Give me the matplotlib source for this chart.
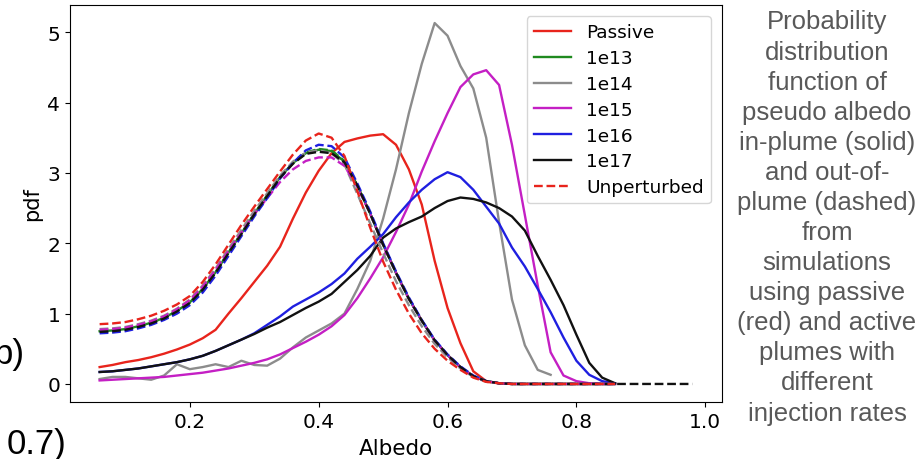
import matplotlib
matplotlib.use("Agg")
import matplotlib.pyplot as plt

# albedo grid (bin centres)
albedo = [0.06, 0.08, 0.10, 0.12, 0.14, 0.16, 0.18, 0.20, 0.22, 0.24,
          0.26, 0.28, 0.30, 0.32, 0.34, 0.36, 0.38, 0.40, 0.42, 0.44,
          0.46, 0.48, 0.50, 0.52, 0.54, 0.56, 0.58, 0.60, 0.62, 0.64,
          0.66, 0.68, 0.70, 0.72, 0.74, 0.76, 0.78, 0.80, 0.82, 0.84,
          0.86, 0.88, 0.90, 0.92, 0.94, 0.96, 0.98]

# in-plume (solid)
passive_in = [0.24, 0.27, 0.31, 0.34, 0.38, 0.43, 0.49, 0.56, 0.65, 0.77,
              1.00, 1.22, 1.45, 1.68, 1.95, 2.35, 2.72, 3.03, 3.28, 3.44,
              3.49, 3.53, 3.55, 3.40, 3.05, 2.55, 1.75, 1.08, 0.58, 0.18,
              0.04, 0.01, 0.0, 0.0, 0.0, 0.0, 0.0, 0.0, 0.0, 0.0, 0.0]
e13_in = [0.75, 0.76, 0.78, 0.82, 0.87, 0.94, 1.04, 1.16, 1.35, 1.59,
          1.87, 2.14, 2.42, 2.68, 2.94, 3.14, 3.28, 3.33, 3.31, 3.16,
          2.82, 2.42, 1.98, 1.58, 1.21, 0.90, 0.62, 0.41, 0.24, 0.11,
          0.04, 0.01, 0.0, 0.0, 0.0, 0.0, 0.0, 0.0, 0.0, 0.0, 0.0]
e14_in = [0.07, 0.10, 0.10, 0.08, 0.06, 0.12, 0.28, 0.21, 0.24, 0.28,
          0.24, 0.33, 0.27, 0.26, 0.36, 0.52, 0.66, 0.76, 0.86, 1.00,
          1.35, 1.75, 2.35, 3.05, 3.85, 4.55, 5.13, 4.95, 4.52, 4.20,
          3.50, 2.30, 1.20, 0.55, 0.20, 0.13]
e15_in = [0.05, 0.06, 0.07, 0.08, 0.09, 0.10, 0.12, 0.14, 0.16, 0.19,
          0.22, 0.26, 0.30, 0.35, 0.42, 0.51, 0.60, 0.70, 0.82, 0.98,
          1.22, 1.50, 1.80, 2.16, 2.55, 3.02, 3.45, 3.85, 4.22, 4.40,
          4.46, 4.25, 3.40, 2.40, 1.40, 0.45, 0.12, 0.04, 0.01, 0.0, 0.0]
e16_in = [0.17, 0.18, 0.20, 0.22, 0.25, 0.28, 0.31, 0.35, 0.40, 0.47,
          0.55, 0.63, 0.72, 0.84, 0.96, 1.10, 1.20, 1.30, 1.42, 1.57,
          1.78, 1.95, 2.13, 2.37, 2.58, 2.76, 2.91, 3.01, 2.94, 2.76,
          2.52, 2.28, 1.94, 1.67, 1.35, 1.02, 0.66, 0.33, 0.13, 0.04, 0.01]
e17_in = [0.17, 0.18, 0.20, 0.22, 0.25, 0.28, 0.31, 0.35, 0.40, 0.47,
          0.55, 0.63, 0.71, 0.80, 0.88, 0.98, 1.08, 1.17, 1.28, 1.45,
          1.62, 1.82, 2.08, 2.21, 2.30, 2.38, 2.50, 2.60, 2.65, 2.63,
          2.58, 2.50, 2.38, 2.18, 1.82, 1.48, 1.12, 0.70, 0.30, 0.09, 0.01]

# out-of-plume (dashed)
e13_out = [0.75, 0.76, 0.78, 0.82, 0.87, 0.94, 1.04, 1.16, 1.35, 1.59,
           1.87, 2.14, 2.42, 2.68, 2.94, 3.14, 3.29, 3.34, 3.32, 3.17,
           2.82, 2.42, 1.98, 1.58, 1.21, 0.90, 0.62, 0.41, 0.24, 0.11,
           0.04, 0.01, 0.0, 0.0, 0.0, 0.0, 0.0, 0.0, 0.0, 0.0, 0.0]
e14_out = [0.78, 0.79, 0.81, 0.85, 0.90, 0.97, 1.07, 1.20, 1.40, 1.64,
           1.92, 2.19, 2.46, 2.71, 2.96, 3.16, 3.29, 3.32, 3.28, 3.12,
           2.70, 2.28, 1.86, 1.46, 1.12, 0.82, 0.57, 0.38, 0.22, 0.10,
           0.03, 0.01, 0.0, 0.0, 0.0, 0.0, 0.0, 0.0, 0.0, 0.0, 0.0]
e15_out = [0.77, 0.78, 0.80, 0.84, 0.89, 0.96, 1.06, 1.19, 1.38, 1.62,
           1.89, 2.15, 2.41, 2.64, 2.87, 3.05, 3.17, 3.22, 3.22, 3.10,
           2.80, 2.42, 1.98, 1.58, 1.21, 0.90, 0.62, 0.41, 0.24, 0.11,
           0.04, 0.01, 0.0, 0.0, 0.0, 0.0, 0.0, 0.0, 0.0, 0.0, 0.0]
e16_out = [0.72, 0.73, 0.75, 0.79, 0.84, 0.91, 1.00, 1.12, 1.30, 1.54,
           1.82, 2.10, 2.38, 2.64, 2.92, 3.14, 3.32, 3.40, 3.38, 3.22,
           2.85, 2.45, 2.00, 1.60, 1.23, 0.91, 0.63, 0.42, 0.25, 0.12,
           0.04, 0.01, 0.0, 0.0, 0.0, 0.0, 0.0, 0.0, 0.0, 0.0, 0.0]
e17_out = [0.74, 0.75, 0.77, 0.81, 0.86, 0.93, 1.03, 1.15, 1.34, 1.58,
           1.86, 2.13, 2.41, 2.67, 2.93, 3.13, 3.27, 3.30, 3.28, 3.15,
           2.82, 2.42, 1.98, 1.58, 1.21, 0.90, 0.62, 0.41, 0.24, 0.11,
           0.04, 0.01, 0.0, 0.0, 0.0, 0.0, 0.0, 0.0, 0.0, 0.0, 0.0,
           0.0, 0.0, 0.0, 0.0, 0.0, 0.0]
unperturbed = [0.85, 0.86, 0.88, 0.92, 0.97, 1.04, 1.13, 1.25, 1.45, 1.70,
               1.98, 2.26, 2.52, 2.77, 3.02, 3.26, 3.46, 3.56, 3.50, 3.24,
               2.74, 2.22, 1.74, 1.34, 1.00, 0.72, 0.50, 0.33, 0.20, 0.09,
               0.03, 0.01, 0.0, 0.0, 0.0, 0.0, 0.0, 0.0, 0.0, 0.0, 0.0]

labels = ["Passive", "1e13", "1e14", "1e15", "1e16", "1e17"]
colors = ["#e8241c", "#1f8a1f", "#8c8c8c", "#c41fc4", "#1f1fe0", "#111111"]
in_plume = [passive_in, e13_in, e14_in, e15_in, e16_in, e17_in]
out_plume = [None, e13_out, e14_out, e15_out, e16_out, e17_out]

fig = plt.figure(figsize=(9.21, 4.60), dpi=100)
ax = fig.add_axes([70 / 921, 57 / 460, 652 / 921, 397 / 460])

LW = 1.7
for lab, col, ys in zip(labels, colors, in_plume):
    ax.plot(albedo[:len(ys)], ys, color=col, lw=LW, label=lab)
for col, ys in zip(colors, out_plume):
    if ys is None:
        continue
    ax.plot(albedo[:len(ys)], ys, color=col, lw=LW, ls="--")
ax.plot(albedo[:len(unperturbed)], unperturbed, color="#e8241c", lw=LW,
        ls="--", label="Unperturbed")

ax.set_xticks([0.2, 0.4, 0.6, 0.8, 1.0])
ax.set_yticks([0, 1, 2, 3, 4, 5])
ax.tick_params(labelsize=14.5)
ax.set_xlabel("Albedo", fontsize=15.5, labelpad=5)
ax.set_ylabel("pdf", fontsize=15, labelpad=4)
ax.legend(loc="upper right", fontsize=13.3, labelspacing=0.42,
          borderaxespad=0.6)

side = ("Probability\ndistribution\nfunction of\npseudo albedo\n"
        "in-plume (solid)\nand out-of-\nplume (dashed)\nfrom\nsimulations\n"
        "using passive\n(red) and active\nplumes with\ndifferent\ninjection rates")
fig.text(827 / 921, 1 - 218 / 460, side, ha="center", va="center",
         fontsize=18.5, color="#595959", family="Liberation Sans",
         linespacing=1.32)

fig.text(25 / 921, 1 - 355 / 460, "b)", ha="right", va="center",
         fontsize=25, color="black", family="Liberation Sans")
fig.text(7 / 921, 1 - 445 / 460, "0.7)", ha="left", va="center",
         fontsize=25, color="black", family="Liberation Sans")

fig.savefig("out.png", dpi=100)
